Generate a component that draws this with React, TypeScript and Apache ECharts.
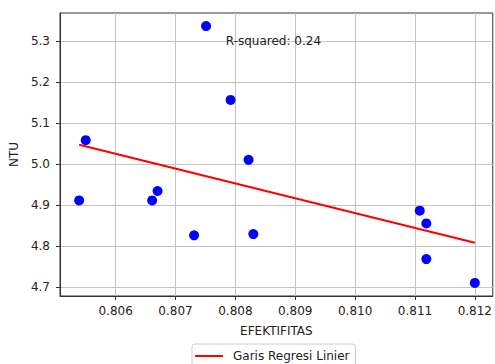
import React, { useEffect, useRef } from 'react';
import * as echarts from 'echarts';

const efektifitas = [0.8055, 0.80751, 0.80792, 0.80822, 0.80539, 0.80661, 0.8067, 0.80731, 0.8083, 0.81108, 0.81119, 0.81119, 0.812];
const ntu = [5.058, 5.336, 5.156, 5.01, 4.911, 4.911, 4.934, 4.826, 4.829, 4.886, 4.855, 4.768, 4.71];
const regX = [0.80539, 0.812];
const regY = [5.0466, 4.808];
const xTicks = [0.806, 0.807, 0.808, 0.809, 0.81, 0.811, 0.812];
const yTicks = [4.7, 4.8, 4.9, 5.0, 5.1, 5.2, 5.3];
const xRange = [0.80507, 0.8123];
const yRange = [4.678, 5.368];
const rSquaredText = 'R-squared: 0.24';
const rSquaredPos = [0.80784, 5.3];
const xName = 'EFEKTIFITAS';
const yName = 'NTU';
const legendLabel = 'Garis Regresi Linier';

const FONT = 'DejaVu Sans';
const TXT = '#222';

export default function App() {
  const ref = useRef<HTMLDivElement>(null);
  useEffect(() => {
    if (!ref.current) return;
    const chart = echarts.init(ref.current, undefined, { renderer: 'svg' });
    const axisCommon = {
      axisLine: { show: true, onZero: false, lineStyle: { color: '#333', width: 1 } },
      axisTick: { show: true, inside: false, length: 4, lineStyle: { color: '#333' } },
      splitLine: { show: true, lineStyle: { color: '#c4c4c4', width: 1 } },
    };
    chart.setOption({
      animation: false,
      backgroundColor: '#fff',
      textStyle: { fontFamily: FONT },
      grid: {
        left: 60, top: 13, width: 436, height: 283,
        show: true, borderColor: '#333', borderWidth: 1, containLabel: false,
      },
      xAxis: {
        type: 'value',
        min: xRange[0], max: xRange[1],
        ...axisCommon,
        axisTick: { ...axisCommon.axisTick, customValues: xTicks },
        axisLabel: {
          customValues: xTicks, margin: 9, color: TXT, fontSize: 12, fontFamily: FONT,
          formatter: (v: number) => v.toFixed(3),
        },
        name: xName, nameLocation: 'middle', nameGap: 29,
        nameTextStyle: { color: TXT, fontSize: 12, fontFamily: FONT },
      },
      yAxis: {
        type: 'value',
        min: yRange[0], max: yRange[1],
        ...axisCommon,
        axisTick: { ...axisCommon.axisTick, customValues: yTicks },
        axisLabel: {
          customValues: yTicks, margin: 10, color: TXT, fontSize: 12, fontFamily: FONT,
          formatter: (v: number) => v.toFixed(1),
        },
        name: yName, nameLocation: 'middle', nameGap: 32,
        nameTextStyle: { color: TXT, fontSize: 12, fontFamily: FONT },
      },
      legend: {
        left: 192, top: 344,
        data: [{ name: legendLabel, icon: 'rect' }],
        itemWidth: 28, itemHeight: 2,
        padding: [6, 6, 6, 3],
        borderColor: '#ccc', borderWidth: 1, borderRadius: 3,
        textStyle: { color: TXT, fontSize: 12, fontFamily: FONT, padding: [0, 0, 0, 5] },
      },
      series: [
        {
          type: 'scatter',
          name: 'data',
          data: efektifitas.map((x, i) => [x, ntu[i]]),
          symbolSize: 10,
          itemStyle: { color: '#0000ff', opacity: 1 },
          z: 3,
        },
        {
          type: 'line',
          name: legendLabel,
          data: regX.map((x, i) => [x, regY[i]]),
          symbol: 'none',
          showSymbol: false,
          lineStyle: { color: '#ff0000', width: 2 },
          itemStyle: { color: '#ff0000' },
          z: 4,
        },
      ],
    });
    const p = chart.convertToPixel({ gridIndex: 0 }, rSquaredPos) as number[];
    chart.setOption({
      graphic: [
        {
          type: 'text',
          x: p[0], y: p[1],
          style: {
            text: rSquaredText, fill: TXT, font: `12px "${FONT}"`,
            textAlign: 'left', textVerticalAlign: 'middle',
          },
          z: 10,
        },
      ],
    });
    return () => chart.dispose();
  }, []);
  return <div ref={ref} style={{ position: 'fixed', left: 0, top: 0, width: 495, height: 364 }} />;
}
